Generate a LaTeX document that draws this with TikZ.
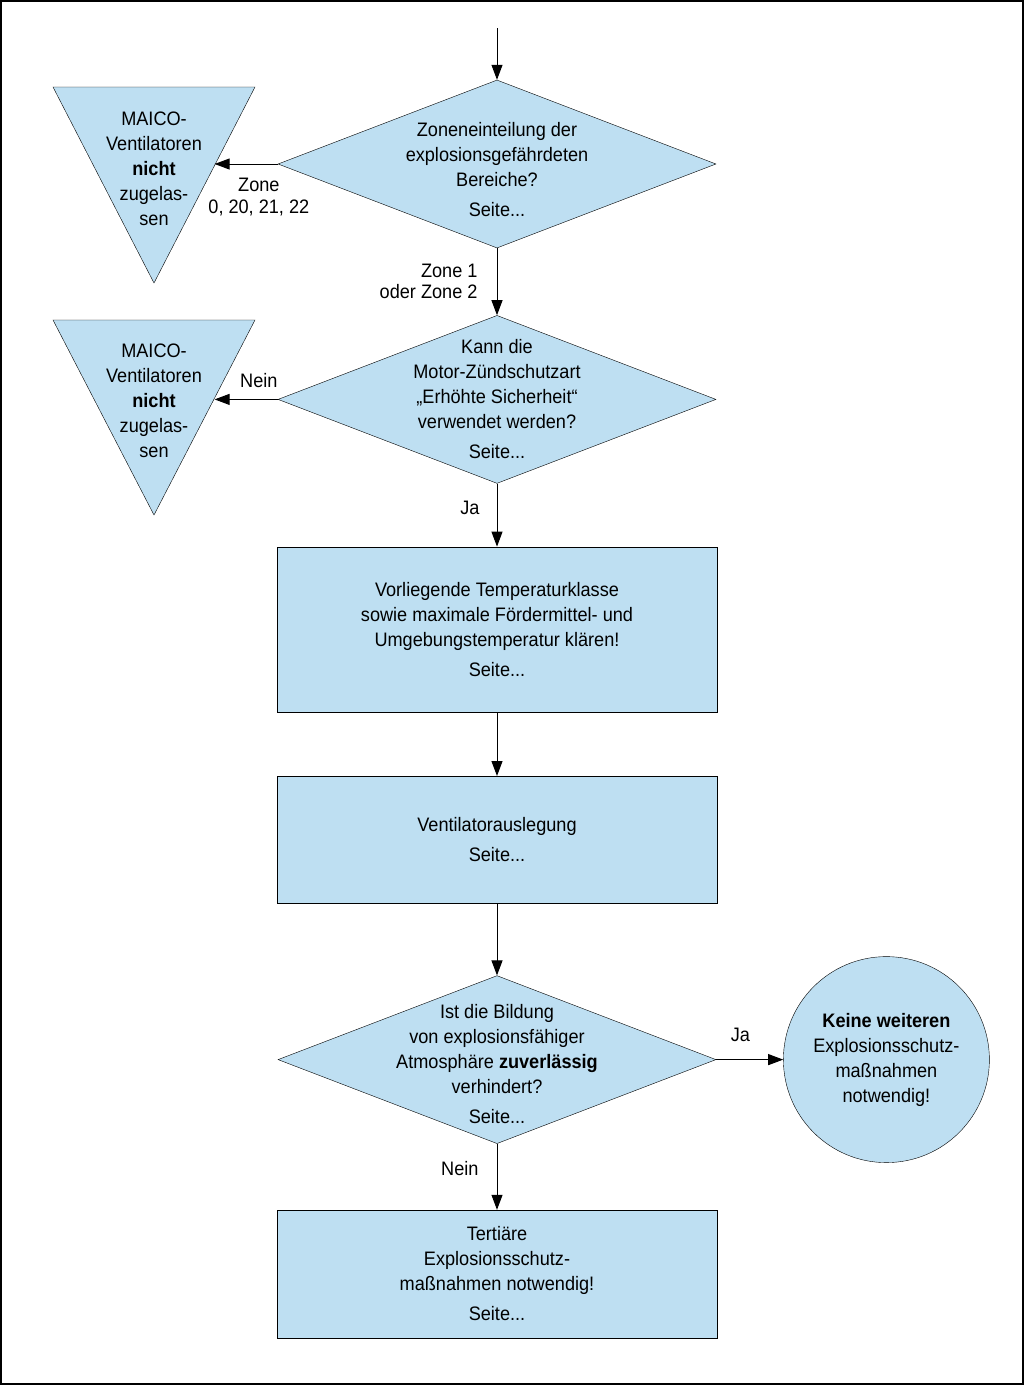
\documentclass[tikz,border=0pt]{standalone}
\usepackage{fontspec}
\setmainfont{Liberation Sans}[FakeStretch=0.93]
\usetikzlibrary{shapes.geometric, arrows.meta, positioning, calc}
\definecolor{boxblue}{RGB}{190,223,242}

\begin{document}
\begin{tikzpicture}[
    x=1pt, y=1pt,
    font=\fontsize{19.5}{25}\selectfont,
    box/.style={rectangle, draw=black, fill=boxblue, minimum width=440pt,
                align=center, inner sep=0pt},
    dia/.style={diamond, draw=black, fill=boxblue, minimum width=438pt,
                minimum height=168pt, inner sep=0pt},
    tri/.style={draw=black, fill=boxblue},
    term/.style={circle, draw=black, fill=boxblue, minimum size=206pt,
                 align=center, inner sep=0pt},
    txt/.style={align=center, inner sep=0pt},
    lbl/.style={align=center, inner sep=0pt},
    arr/.style={-{Triangle[length=15pt,width=11pt]}, line width=1pt}
  ]

    \useasboundingbox (0,0) rectangle (1024,-1385);
    \draw[line width=2pt] (1,-1) rectangle (1023,-1384);

    % Zone question
    \node[dia] (zone) at (497,-164) {};
    \node[txt, yshift=-6pt] (zonet) at (zone)
      {Zoneneinteilung der\\explosionsgefährdeten\\Bereiche?\\[5pt]Seite...};

    % Motor question
    \node[dia, below=67pt of zone] (motor) {};
    \node[txt] (motort) at (motor)
      {Kann die\\Motor-Zündschutzart\\„Erhöhte Sicherheit“\\verwendet werden?\\[5pt]Seite...};

    % Temperature class
    \node[box, minimum height=165pt, below=63pt of motor] (temp)
      {Vorliegende Temperaturklasse\\sowie maximale Fördermittel- und\\Umgebungstemperatur klären!\\[5pt]Seite...};

    % Fan design
    \node[box, minimum height=127pt, below=64pt of temp] (vent)
      {Ventilatorauslegung\\[5pt]Seite...};

    % Atmosphere question
    \node[dia, below=72pt of vent] (atmo) {};
    \node[txt, yshift=-4pt] (atmot) at (atmo)
      {Ist die Bildung\\von explosionsfähiger\\Atmosphäre \textbf{zuverlässig}\\verhindert?\\[5pt]Seite...};

    % No further measures
    \node[term, right=67pt of atmo] (keine)
      {\textbf{Keine weiteren}\\Explosionsschutz-\\maßnahmen\\notwendig!};

    % Tertiary measures
    \node[box, minimum height=128pt, below=66pt of atmo] (tert)
      {Tertiäre\\Explosionsschutz-\\maßnahmen notwendig!\\[5pt]Seite...};

    % Not allowed (zone 0, 20, 21, 22)
    \coordinate (t1l) at (53,-87);
    \coordinate (t1r) at (255,-87);
    \coordinate (t1b) at (154,-283);
    \filldraw[tri] (t1l) -- (t1r) -- (t1b) -- cycle;
    \coordinate (t1e) at ($(t1r)!0.4!(t1b)$);
    \node[txt] (nicht1) at (154,-169)
      {MAICO-\\Ventilatoren\\\textbf{nicht}\\zugelas-\\sen};

    % Not allowed (motor)
    \coordinate (t2l) at (53,-320);
    \coordinate (t2r) at (255,-320);
    \coordinate (t2b) at (154,-515);
    \filldraw[tri] (t2l) -- (t2r) -- (t2b) -- cycle;
    \coordinate (t2e) at ($(t2r)!0.4!(t2b)$);
    \node[txt] (nicht2) at (154,-401)
      {MAICO-\\Ventilatoren\\\textbf{nicht}\\zugelas-\\sen};

    % Arrows
    \coordinate (start) at (497,-28);
    \draw[arr] (start) -- (zone);
    \draw[arr] (zone.west) -- (zone.west -| t1e)
      node[lbl, pos=0.3, below=14pt, font=\fontsize{19.5}{22}\selectfont] {Zone\\0, 20, 21, 22};
    \draw[arr] (zone) -- (motor)
      node[lbl, midway, left=19pt, align=right, font=\fontsize{19.5}{21}\selectfont] {Zone 1\\oder Zone 2};
    \draw[arr] (motor.west) -- (motor.west -| t2e)
      node[lbl, pos=0.3, above=11pt] {Nein};
    \draw[arr] (motor) -- (temp)
      node[lbl, pos=0.38, left=17pt] {Ja};
    \draw[arr] (temp) -- (vent);
    \draw[arr] (vent) -- (atmo);
    \draw[arr] (atmo) -- (keine)
      node[lbl, pos=0.36, above=17pt] {Ja};
    \draw[arr] (atmo) -- (tert)
      node[lbl, pos=0.38, left=18pt] {Nein};

  \end{tikzpicture}
\end{document}
